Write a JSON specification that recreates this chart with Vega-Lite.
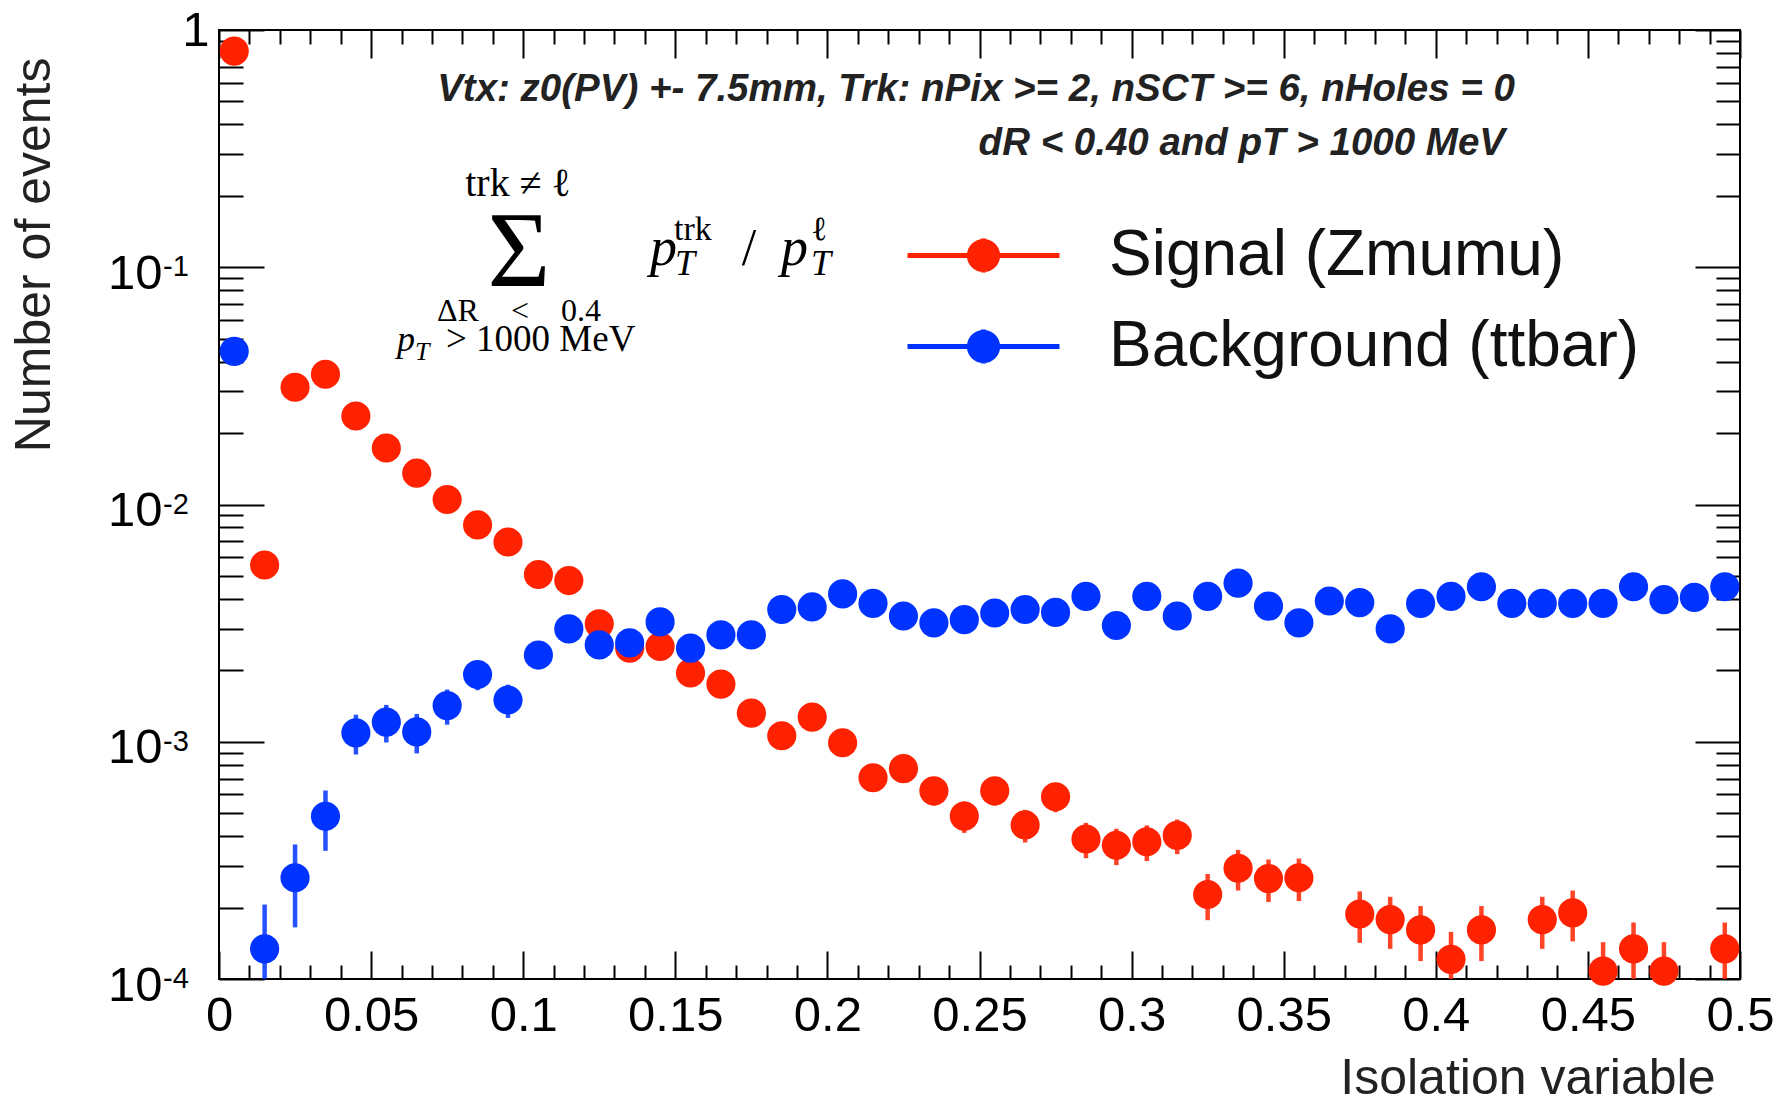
{
  "$schema": "https://vega.github.io/schema/vega-lite/v6.json",
  "width": 1521,
  "height": 949,
  "autosize": {"type": "none"},
  "padding": {"left": 219, "top": 30, "right": 35, "bottom": 122},
  "background": "white",
  "config": {
    "font": "Liberation Sans",
    "view": {"stroke": "black", "strokeWidth": 2}
  },
  "data": {
    "values": [
      {"series": "Signal (Zmumu)", "x": 0.005, "y": 0.815, "lo": 0.812, "hi": 0.818},
      {"series": "Signal (Zmumu)", "x": 0.015, "y": 0.00556, "lo": 0.00531, "hi": 0.00581},
      {"series": "Signal (Zmumu)", "x": 0.025, "y": 0.0312, "lo": 0.0306, "hi": 0.0318},
      {"series": "Signal (Zmumu)", "x": 0.035, "y": 0.0354, "lo": 0.0348, "hi": 0.036},
      {"series": "Signal (Zmumu)", "x": 0.045, "y": 0.0236, "lo": 0.0231, "hi": 0.0241},
      {"series": "Signal (Zmumu)", "x": 0.055, "y": 0.0173, "lo": 0.01686, "hi": 0.01774},
      {"series": "Signal (Zmumu)", "x": 0.065, "y": 0.01355, "lo": 0.01316, "hi": 0.01394},
      {"series": "Signal (Zmumu)", "x": 0.075, "y": 0.0105, "lo": 0.01016, "hi": 0.01084},
      {"series": "Signal (Zmumu)", "x": 0.085, "y": 0.0082, "lo": 0.0079, "hi": 0.0085},
      {"series": "Signal (Zmumu)", "x": 0.095, "y": 0.00695, "lo": 0.00667, "hi": 0.00723},
      {"series": "Signal (Zmumu)", "x": 0.105, "y": 0.00507, "lo": 0.00483, "hi": 0.00531},
      {"series": "Signal (Zmumu)", "x": 0.115, "y": 0.00478, "lo": 0.00455, "hi": 0.00501},
      {"series": "Signal (Zmumu)", "x": 0.125, "y": 0.00314, "lo": 0.00295, "hi": 0.00333},
      {"series": "Signal (Zmumu)", "x": 0.135, "y": 0.00248, "lo": 0.00231, "hi": 0.00265},
      {"series": "Signal (Zmumu)", "x": 0.145, "y": 0.00252, "lo": 0.00235, "hi": 0.00269},
      {"series": "Signal (Zmumu)", "x": 0.155, "y": 0.00195, "lo": 0.0018, "hi": 0.0021},
      {"series": "Signal (Zmumu)", "x": 0.165, "y": 0.00175, "lo": 0.00161, "hi": 0.00189},
      {"series": "Signal (Zmumu)", "x": 0.175, "y": 0.00132, "lo": 0.0012, "hi": 0.00144},
      {"series": "Signal (Zmumu)", "x": 0.185, "y": 0.00106, "lo": 0.00095, "hi": 0.00117},
      {"series": "Signal (Zmumu)", "x": 0.195, "y": 0.00127, "lo": 0.00115, "hi": 0.00139},
      {"series": "Signal (Zmumu)", "x": 0.205, "y": 0.00099, "lo": 0.00089, "hi": 0.0011},
      {"series": "Signal (Zmumu)", "x": 0.215, "y": 0.000705, "lo": 0.000617, "hi": 0.000794},
      {"series": "Signal (Zmumu)", "x": 0.225, "y": 0.00077, "lo": 0.000678, "hi": 0.000863},
      {"series": "Signal (Zmumu)", "x": 0.235, "y": 0.000621, "lo": 0.000538, "hi": 0.000704},
      {"series": "Signal (Zmumu)", "x": 0.245, "y": 0.000486, "lo": 0.000413, "hi": 0.00056},
      {"series": "Signal (Zmumu)", "x": 0.255, "y": 0.000621, "lo": 0.000538, "hi": 0.000704},
      {"series": "Signal (Zmumu)", "x": 0.265, "y": 0.000446, "lo": 0.000376, "hi": 0.000516},
      {"series": "Signal (Zmumu)", "x": 0.275, "y": 0.000586, "lo": 0.000505, "hi": 0.000667},
      {"series": "Signal (Zmumu)", "x": 0.285, "y": 0.000389, "lo": 0.000323, "hi": 0.000455},
      {"series": "Signal (Zmumu)", "x": 0.295, "y": 0.000366, "lo": 0.000302, "hi": 0.00043},
      {"series": "Signal (Zmumu)", "x": 0.305, "y": 0.000379, "lo": 0.000314, "hi": 0.000444},
      {"series": "Signal (Zmumu)", "x": 0.315, "y": 0.000403, "lo": 0.000336, "hi": 0.00047},
      {"series": "Signal (Zmumu)", "x": 0.325, "y": 0.000227, "lo": 0.000177, "hi": 0.000277},
      {"series": "Signal (Zmumu)", "x": 0.335, "y": 0.000293, "lo": 0.000236, "hi": 0.00035},
      {"series": "Signal (Zmumu)", "x": 0.345, "y": 0.000265, "lo": 0.000211, "hi": 0.000319},
      {"series": "Signal (Zmumu)", "x": 0.355, "y": 0.000267, "lo": 0.000213, "hi": 0.000322},
      {"series": "Signal (Zmumu)", "x": 0.375, "y": 0.000188, "lo": 0.000142, "hi": 0.000234},
      {"series": "Signal (Zmumu)", "x": 0.385, "y": 0.000178, "lo": 0.000134, "hi": 0.000222},
      {"series": "Signal (Zmumu)", "x": 0.395, "y": 0.000161, "lo": 0.000119, "hi": 0.000203},
      {"series": "Signal (Zmumu)", "x": 0.405, "y": 0.000121, "lo": 0.0000843, "hi": 0.000158},
      {"series": "Signal (Zmumu)", "x": 0.415, "y": 0.000161, "lo": 0.000119, "hi": 0.000203},
      {"series": "Signal (Zmumu)", "x": 0.435, "y": 0.000178, "lo": 0.000134, "hi": 0.000222},
      {"series": "Signal (Zmumu)", "x": 0.445, "y": 0.00019, "lo": 0.000144, "hi": 0.000236},
      {"series": "Signal (Zmumu)", "x": 0.455, "y": 0.000108, "lo": 0.0000734, "hi": 0.000143},
      {"series": "Signal (Zmumu)", "x": 0.465, "y": 0.000134, "lo": 0.0000954, "hi": 0.000173},
      {"series": "Signal (Zmumu)", "x": 0.475, "y": 0.000108, "lo": 0.0000734, "hi": 0.000143},
      {"series": "Signal (Zmumu)", "x": 0.495, "y": 0.000134, "lo": 0.0000954, "hi": 0.000173},
      {"series": "Background (ttbar)", "x": 0.005, "y": 0.0442, "lo": 0.0429, "hi": 0.0455},
      {"series": "Background (ttbar)", "x": 0.015, "y": 0.000134, "lo": 0.0000617, "hi": 0.000206},
      {"series": "Background (ttbar)", "x": 0.025, "y": 0.000267, "lo": 0.000165, "hi": 0.000369},
      {"series": "Background (ttbar)", "x": 0.035, "y": 0.000485, "lo": 0.000347, "hi": 0.000623},
      {"series": "Background (ttbar)", "x": 0.045, "y": 0.00109, "lo": 0.000884, "hi": 0.0013},
      {"series": "Background (ttbar)", "x": 0.055, "y": 0.00121, "lo": 0.000993, "hi": 0.00143},
      {"series": "Background (ttbar)", "x": 0.065, "y": 0.0011, "lo": 0.000893, "hi": 0.00131},
      {"series": "Background (ttbar)", "x": 0.075, "y": 0.00142, "lo": 0.00118, "hi": 0.00166},
      {"series": "Background (ttbar)", "x": 0.085, "y": 0.00192, "lo": 0.00165, "hi": 0.00219},
      {"series": "Background (ttbar)", "x": 0.095, "y": 0.0015, "lo": 0.00126, "hi": 0.00174},
      {"series": "Background (ttbar)", "x": 0.105, "y": 0.00232, "lo": 0.00202, "hi": 0.00262},
      {"series": "Background (ttbar)", "x": 0.115, "y": 0.00299, "lo": 0.00265, "hi": 0.00333},
      {"series": "Background (ttbar)", "x": 0.125, "y": 0.00256, "lo": 0.00224, "hi": 0.00288},
      {"series": "Background (ttbar)", "x": 0.135, "y": 0.00261, "lo": 0.00229, "hi": 0.00293},
      {"series": "Background (ttbar)", "x": 0.145, "y": 0.0032, "lo": 0.00285, "hi": 0.00355},
      {"series": "Background (ttbar)", "x": 0.155, "y": 0.00248, "lo": 0.00217, "hi": 0.00279},
      {"series": "Background (ttbar)", "x": 0.165, "y": 0.00282, "lo": 0.00249, "hi": 0.00315},
      {"series": "Background (ttbar)", "x": 0.175, "y": 0.00282, "lo": 0.00249, "hi": 0.00315},
      {"series": "Background (ttbar)", "x": 0.185, "y": 0.00361, "lo": 0.00323, "hi": 0.00399},
      {"series": "Background (ttbar)", "x": 0.195, "y": 0.0037, "lo": 0.00332, "hi": 0.00408},
      {"series": "Background (ttbar)", "x": 0.205, "y": 0.0042, "lo": 0.0038, "hi": 0.0046},
      {"series": "Background (ttbar)", "x": 0.215, "y": 0.00383, "lo": 0.00344, "hi": 0.00422},
      {"series": "Background (ttbar)", "x": 0.225, "y": 0.00339, "lo": 0.00303, "hi": 0.00375},
      {"series": "Background (ttbar)", "x": 0.235, "y": 0.00317, "lo": 0.00282, "hi": 0.00352},
      {"series": "Background (ttbar)", "x": 0.245, "y": 0.00327, "lo": 0.00291, "hi": 0.00363},
      {"series": "Background (ttbar)", "x": 0.255, "y": 0.00349, "lo": 0.00312, "hi": 0.00386},
      {"series": "Background (ttbar)", "x": 0.265, "y": 0.00361, "lo": 0.00323, "hi": 0.00399},
      {"series": "Background (ttbar)", "x": 0.275, "y": 0.00351, "lo": 0.00314, "hi": 0.00388},
      {"series": "Background (ttbar)", "x": 0.285, "y": 0.0041, "lo": 0.0037, "hi": 0.0045},
      {"series": "Background (ttbar)", "x": 0.295, "y": 0.00309, "lo": 0.00274, "hi": 0.00344},
      {"series": "Background (ttbar)", "x": 0.305, "y": 0.0041, "lo": 0.0037, "hi": 0.0045},
      {"series": "Background (ttbar)", "x": 0.315, "y": 0.00339, "lo": 0.00303, "hi": 0.00375},
      {"series": "Background (ttbar)", "x": 0.325, "y": 0.0041, "lo": 0.0037, "hi": 0.0045},
      {"series": "Background (ttbar)", "x": 0.335, "y": 0.00466, "lo": 0.00423, "hi": 0.00509},
      {"series": "Background (ttbar)", "x": 0.345, "y": 0.00373, "lo": 0.00335, "hi": 0.00411},
      {"series": "Background (ttbar)", "x": 0.355, "y": 0.00317, "lo": 0.00282, "hi": 0.00352},
      {"series": "Background (ttbar)", "x": 0.365, "y": 0.00392, "lo": 0.00353, "hi": 0.00431},
      {"series": "Background (ttbar)", "x": 0.375, "y": 0.00386, "lo": 0.00347, "hi": 0.00425},
      {"series": "Background (ttbar)", "x": 0.385, "y": 0.00299, "lo": 0.00265, "hi": 0.00333},
      {"series": "Background (ttbar)", "x": 0.395, "y": 0.00383, "lo": 0.00344, "hi": 0.00422},
      {"series": "Background (ttbar)", "x": 0.405, "y": 0.0041, "lo": 0.0037, "hi": 0.0045},
      {"series": "Background (ttbar)", "x": 0.415, "y": 0.0045, "lo": 0.00408, "hi": 0.00492},
      {"series": "Background (ttbar)", "x": 0.425, "y": 0.00383, "lo": 0.00344, "hi": 0.00422},
      {"series": "Background (ttbar)", "x": 0.435, "y": 0.00383, "lo": 0.00344, "hi": 0.00422},
      {"series": "Background (ttbar)", "x": 0.445, "y": 0.00383, "lo": 0.00344, "hi": 0.00422},
      {"series": "Background (ttbar)", "x": 0.455, "y": 0.00383, "lo": 0.00344, "hi": 0.00422},
      {"series": "Background (ttbar)", "x": 0.465, "y": 0.0045, "lo": 0.00408, "hi": 0.00492},
      {"series": "Background (ttbar)", "x": 0.475, "y": 0.00397, "lo": 0.00358, "hi": 0.00436},
      {"series": "Background (ttbar)", "x": 0.485, "y": 0.00406, "lo": 0.00366, "hi": 0.00446},
      {"series": "Background (ttbar)", "x": 0.495, "y": 0.0045, "lo": 0.00408, "hi": 0.00492}
    ]
  },
  "resolve": {"axis": {"x": "independent", "y": "independent"}},
  "layer": [
    {
      "mark": {"type": "rule", "strokeWidth": 4.5, "clip": true, "opacity": 0.85},
      "encoding": {
        "x": {
          "field": "x", "type": "quantitative",
          "scale": {"domain": [0, 0.5], "nice": false, "zero": false},
          "axis": {
            "orient": "bottom",
            "values": [0,0.01,0.02,0.03,0.04,0.05,0.06,0.07,0.08,0.09,0.1,0.11,0.12,0.13,0.14,0.15,0.16,0.17,0.18,0.19,0.2,0.21,0.22,0.23,0.24,0.25,0.26,0.27,0.28,0.29,0.3,0.31,0.32,0.33,0.34,0.35,0.36,0.37,0.38,0.39,0.4,0.41,0.42,0.43,0.44,0.45,0.46,0.47,0.48,0.49,0.5],
            "domain": false, "grid": false,
            "tickColor": "black", "tickWidth": 2,
            "tickSize": {"condition": {"test": "abs(datum.value*20 - round(datum.value*20)) < 0.001", "value": -28}, "value": -14},
            "labelExpr": "abs(datum.value*20 - round(datum.value*20)) < 0.001 ? format(datum.value, '~g') : ''",
            "labelFont": "Liberation Sans", "labelFontSize": 49, "labelColor": "black",
            "labelPadding": {"condition": {"test": "abs(datum.value*20 - round(datum.value*20)) < 0.001", "value": 40}, "value": 26},
            "labelFlush": false, "labelOverlap": false, "labelBound": false,
            "title": "Isolation variable", "titleFont": "Liberation Sans", "titleFontSize": 50, "titleFontWeight": "normal", "titleColor": "#222",
            "titleAlign": "right", "titleBaseline": "alphabetic", "titleX": 1496, "titleY": 114
          }
        },
        "y": {
          "field": "lo", "type": "quantitative",
          "scale": {"type": "log", "domain": [0.0001, 1], "nice": false},
          "axis": {
            "orient": "left",
            "values": [0.0001,0.0002,0.0003,0.0004,0.0005,0.0006,0.0007,0.0008,0.0009,0.001,0.002,0.003,0.004,0.005,0.006,0.007,0.008,0.009,0.01,0.02,0.03,0.04,0.05,0.06,0.07,0.08,0.09,0.1,0.2,0.3,0.4,0.5,0.6,0.7,0.8,0.9,1],
            "domain": false, "grid": false,
            "tickColor": "black", "tickWidth": 2,
            "tickSize": {"condition": {"test": "abs(log(datum.value)/LN10 - round(log(datum.value)/LN10)) < 0.01", "value": -45}, "value": -24},
            "labelExpr": "abs(log(datum.value)/LN10 - round(log(datum.value)/LN10)) < 0.01 ? (datum.value > 0.5 ? '1' : '10') : ''",
            "labelFont": "Liberation Sans", "labelFontSize": 49, "labelColor": "black", "labelBaseline": "middle",
            "labelPadding": {"condition": {"test": "datum.value > 0.5", "value": 55}, "value": 102},
            "labelOffset": {"condition": {"test": "datum.value > 0.5", "value": 0}, "value": 6},
            "labelFlush": false, "labelOverlap": false, "labelBound": false,
            "title": "Number of events", "titleFont": "Liberation Sans", "titleFontSize": 50, "titleFontWeight": "normal", "titleColor": "#222",
            "titleAngle": -90, "titleAlign": "right", "titleBaseline": "middle", "titleX": -185, "titleY": 27
          }
        },
        "y2": {"field": "hi"},
        "color": {
          "field": "series", "type": "nominal",
          "scale": {"domain": ["Signal (Zmumu)", "Background (ttbar)"], "range": ["#ff2200", "#0033ff"]},
          "legend": {
            "orient": "none", "legendX": 732, "legendY": 193, "title": null, "padding": 0,
            "symbolType": "M-2.533,0H2.533M0,-0.57V0.57M-0.47,0A0.47,0.47,0,1,0,0.47,0A0.47,0.47,0,1,0,-0.47,0Z",
            "symbolSize": 3600, "symbolStrokeWidth": 5, "symbolOpacity": 1,
            "labelFont": "Liberation Sans", "labelFontSize": 64, "labelColor": "#111", "labelOffset": 93, "labelLimit": 1000,
            "rowPadding": 26,
            "encoding": {
              "symbols": {
                "update": {
                  "shape": {"value": "M-2.533,0H2.533M0,-0.57V0.57M-0.47,0A0.47,0.47,0,1,0,0.47,0A0.47,0.47,0,1,0,-0.47,0Z"},
                  "size": {"value": 3600},
                  "fill": {"scale": "color", "field": "value"},
                  "stroke": {"scale": "color", "field": "value"},
                  "strokeWidth": {"value": 5},
                  "opacity": {"value": 1},
                  "fillOpacity": {"value": 1},
                  "strokeOpacity": {"value": 0.75}
                }
              }
            }
          }
        }
      }
    },
    {
      "mark": {"type": "point", "filled": true, "shape": "circle", "size": 850, "opacity": 1},
      "encoding": {
        "x": {
          "field": "x", "type": "quantitative",
          "axis": {
            "orient": "top",
            "values": [0,0.01,0.02,0.03,0.04,0.05,0.06,0.07,0.08,0.09,0.1,0.11,0.12,0.13,0.14,0.15,0.16,0.17,0.18,0.19,0.2,0.21,0.22,0.23,0.24,0.25,0.26,0.27,0.28,0.29,0.3,0.31,0.32,0.33,0.34,0.35,0.36,0.37,0.38,0.39,0.4,0.41,0.42,0.43,0.44,0.45,0.46,0.47,0.48,0.49,0.5],
            "domain": false, "grid": false, "labels": false, "title": null,
            "tickColor": "black", "tickWidth": 2,
            "tickSize": {"condition": {"test": "abs(datum.value*20 - round(datum.value*20)) < 0.001", "value": -28}, "value": -14}
          }
        },
        "y": {
          "field": "y", "type": "quantitative",
          "axis": {
            "orient": "right",
            "values": [0.0001,0.0002,0.0003,0.0004,0.0005,0.0006,0.0007,0.0008,0.0009,0.001,0.002,0.003,0.004,0.005,0.006,0.007,0.008,0.009,0.01,0.02,0.03,0.04,0.05,0.06,0.07,0.08,0.09,0.1,0.2,0.3,0.4,0.5,0.6,0.7,0.8,0.9,1],
            "domain": false, "grid": false, "labels": false, "title": null,
            "tickColor": "black", "tickWidth": 2,
            "tickSize": {"condition": {"test": "abs(log(datum.value)/LN10 - round(log(datum.value)/LN10)) < 0.01", "value": -45}, "value": -24}
          }
        },
        "color": {
          "field": "series", "type": "nominal",
          "legend": {
            "orient": "none", "legendX": 732, "legendY": 193, "title": null, "padding": 0,
            "symbolType": "M-2.533,0H2.533M0,-0.57V0.57M-0.47,0A0.47,0.47,0,1,0,0.47,0A0.47,0.47,0,1,0,-0.47,0Z",
            "symbolSize": 3600, "symbolStrokeWidth": 5, "symbolOpacity": 1,
            "labelFont": "Liberation Sans", "labelFontSize": 64, "labelColor": "#111", "labelOffset": 93, "labelLimit": 1000,
            "rowPadding": 26
          }
        }
      }
    },
    {
      "data": {"values": [{"sup": "-1", "decade": 0.1}, {"sup": "-2", "decade": 0.01}, {"sup": "-3", "decade": 0.001}, {"sup": "-4", "decade": 0.0001}]},
      "mark": {"type": "text", "align": "left", "baseline": "alphabetic", "font": "Liberation Sans", "fontSize": 29, "color": "black", "dy": 9},
      "encoding": {"x": {"datum": -0.0184, "type": "quantitative", "axis": null}, "y": {"field": "decade", "type": "quantitative", "axis": null}, "text": {"field": "sup"}}
    },
    {
      "data": {"values": [{"label": "Vtx: z0(PV) +- 7.5mm, Trk: nPix >= 2, nSCT >= 6, nHoles = 0"}]},
      "mark": {"type": "text", "align": "right", "baseline": "alphabetic", "font": "Liberation Sans", "fontSize": 38.5, "fontStyle": "italic", "fontWeight": "bold", "color": "#222"},
      "encoding": {"x": {"datum": 0.426, "type": "quantitative", "axis": null}, "y": {"datum": 0.502, "type": "quantitative", "axis": null}, "text": {"field": "label"}}
    },
    {
      "data": {"values": [{"label": "dR < 0.40 and pT > 1000 MeV"}]},
      "mark": {"type": "text", "align": "right", "baseline": "alphabetic", "font": "Liberation Sans", "fontSize": 38.5, "fontStyle": "italic", "fontWeight": "bold", "color": "#222"},
      "encoding": {"x": {"datum": 0.42275, "type": "quantitative", "axis": null}, "y": {"datum": 0.2972, "type": "quantitative", "axis": null}, "text": {"field": "label"}}
    },
    {
      "data": {"values": [{"label": "trk  \u2260  \u2113"}]},
      "mark": {"type": "text", "align": "center", "baseline": "alphabetic", "font": "Liberation Serif", "fontSize": 40, "color": "black"},
      "encoding": {"x": {"datum": 0.09829, "type": "quantitative", "axis": null}, "y": {"datum": 0.1997, "type": "quantitative", "axis": null}, "text": {"field": "label"}}
    },
    {
      "data": {"values": [{"label": "\u03a3"}]},
      "mark": {"type": "text", "align": "center", "baseline": "alphabetic", "font": "Liberation Serif", "fontSize": 108, "color": "black"},
      "encoding": {"x": {"datum": 0.09862, "type": "quantitative", "axis": null}, "y": {"datum": 0.08337, "type": "quantitative", "axis": null}, "text": {"field": "label"}}
    },
    {
      "data": {"values": [{"label": "\u0394R\u2003<\u20030.4"}]},
      "mark": {"type": "text", "align": "center", "baseline": "alphabetic", "font": "Liberation Serif", "fontSize": 32, "color": "black"},
      "encoding": {"x": {"datum": 0.09862, "type": "quantitative", "axis": null}, "y": {"datum": 0.05935, "type": "quantitative", "axis": null}, "text": {"field": "label"}}
    },
    {
      "data": {"values": [{"label": "p"}]},
      "mark": {"type": "text", "align": "left", "baseline": "alphabetic", "font": "Liberation Serif", "fontSize": 36, "fontStyle": "italic", "color": "black"},
      "encoding": {"x": {"datum": 0.05851, "type": "quantitative", "axis": null}, "y": {"datum": 0.04436, "type": "quantitative", "axis": null}, "text": {"field": "label"}}
    },
    {
      "data": {"values": [{"label": "T"}]},
      "mark": {"type": "text", "align": "left", "baseline": "alphabetic", "font": "Liberation Serif", "fontSize": 26, "fontStyle": "italic", "color": "black"},
      "encoding": {"x": {"datum": 0.06443, "type": "quantitative", "axis": null}, "y": {"datum": 0.04066, "type": "quantitative", "axis": null}, "text": {"field": "label"}}
    },
    {
      "data": {"values": [{"label": "> 1000 MeV"}]},
      "mark": {"type": "text", "align": "left", "baseline": "alphabetic", "font": "Liberation Serif", "fontSize": 37, "color": "black"},
      "encoding": {"x": {"datum": 0.07462, "type": "quantitative", "axis": null}, "y": {"datum": 0.04436, "type": "quantitative", "axis": null}, "text": {"field": "label"}}
    },
    {
      "data": {"values": [{"label": "p"}]},
      "mark": {"type": "text", "align": "left", "baseline": "alphabetic", "font": "Liberation Serif", "fontSize": 54, "fontStyle": "italic", "color": "black"},
      "encoding": {"x": {"datum": 0.14168, "type": "quantitative", "axis": null}, "y": {"datum": 0.1022, "type": "quantitative", "axis": null}, "text": {"field": "label"}}
    },
    {
      "data": {"values": [{"label": "trk"}]},
      "mark": {"type": "text", "align": "left", "baseline": "alphabetic", "font": "Liberation Serif", "fontSize": 34, "color": "black"},
      "encoding": {"x": {"datum": 0.14957, "type": "quantitative", "axis": null}, "y": {"datum": 0.1302, "type": "quantitative", "axis": null}, "text": {"field": "label"}}
    },
    {
      "data": {"values": [{"label": "T"}]},
      "mark": {"type": "text", "align": "left", "baseline": "alphabetic", "font": "Liberation Serif", "fontSize": 36, "fontStyle": "italic", "color": "black"},
      "encoding": {"x": {"datum": 0.1499, "type": "quantitative", "axis": null}, "y": {"datum": 0.09275, "type": "quantitative", "axis": null}, "text": {"field": "label"}}
    },
    {
      "data": {"values": [{"label": "/"}]},
      "mark": {"type": "text", "align": "center", "baseline": "alphabetic", "font": "Liberation Serif", "fontSize": 52, "color": "black"},
      "encoding": {"x": {"datum": 0.17423, "type": "quantitative", "axis": null}, "y": {"datum": 0.1022, "type": "quantitative", "axis": null}, "text": {"field": "label"}}
    },
    {
      "data": {"values": [{"label": "p"}]},
      "mark": {"type": "text", "align": "left", "baseline": "alphabetic", "font": "Liberation Serif", "fontSize": 54, "fontStyle": "italic", "color": "black"},
      "encoding": {"x": {"datum": 0.18475, "type": "quantitative", "axis": null}, "y": {"datum": 0.1022, "type": "quantitative", "axis": null}, "text": {"field": "label"}}
    },
    {
      "data": {"values": [{"label": "\u2113"}]},
      "mark": {"type": "text", "align": "left", "baseline": "alphabetic", "font": "Liberation Serif", "fontSize": 34, "color": "black"},
      "encoding": {"x": {"datum": 0.19461, "type": "quantitative", "axis": null}, "y": {"datum": 0.1302, "type": "quantitative", "axis": null}, "text": {"field": "label"}}
    },
    {
      "data": {"values": [{"label": "T"}]},
      "mark": {"type": "text", "align": "left", "baseline": "alphabetic", "font": "Liberation Serif", "fontSize": 36, "fontStyle": "italic", "color": "black"},
      "encoding": {"x": {"datum": 0.19461, "type": "quantitative", "axis": null}, "y": {"datum": 0.09275, "type": "quantitative", "axis": null}, "text": {"field": "label"}}
    }
  ]
}
